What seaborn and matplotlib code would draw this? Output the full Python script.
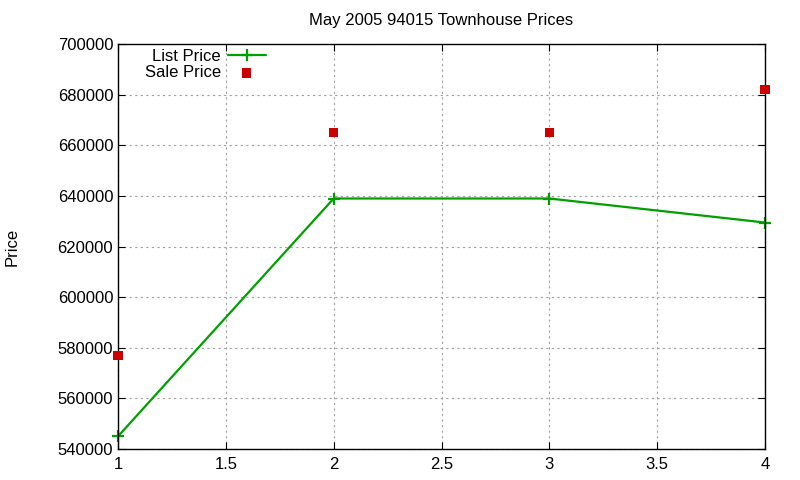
import numpy as np
import pandas as pd
import seaborn as sb
import matplotlib
matplotlib.use('Agg')
import matplotlib.pyplot as plt

# data
bedrooms = [1, 2, 3, 4]
listPrice = [545000, 639000, 639000, 629500]
salePrice = [577000, 665000, 665000, 682000]

df = pd.DataFrame({'x': bedrooms, 'List Price': listPrice, 'Sale Price': salePrice})

sb.set_style('ticks')
plt.rcParams['font.family'] = ['Liberation Sans', 'DejaVu Sans']
plt.rcParams['text.color'] = 'black'
plt.rcParams['axes.labelcolor'] = 'black'
plt.rcParams['xtick.color'] = 'black'
plt.rcParams['ytick.color'] = 'black'

fig = plt.figure(figsize=(8, 4.8), dpi=100)
ax = fig.add_axes([0.1475, 0.0646, 0.8088, 0.8434])

green = '#00a000'
sb.lineplot(data=df, x='x', y='List Price', ax=ax, color=green, linewidth=1.6,
            marker='+', markersize=9, markeredgewidth=1.6, markeredgecolor=green,
            label='List Price', clip_on=False)
sb.scatterplot(data=df, x='x', y='Sale Price', ax=ax, color='#cc0000', marker='s',
               s=45, edgecolor='none', label='Sale Price', clip_on=False, zorder=5)

ax.set_xlim(1, 4)
ax.set_ylim(540000, 700000)
ax.set_xticks([1, 1.5, 2, 2.5, 3, 3.5, 4])
ax.set_xticklabels(['1', '1.5', '2', '2.5', '3', '3.5', '4'])
ax.set_yticks(np.arange(540000, 700001, 20000))
ax.set_yticklabels([str(v) for v in range(540000, 700001, 20000)])
ax.grid(True, color='#a0a0a0', linestyle=(0, (2, 3)), linewidth=0.8)
for sp in ax.spines.values():
    sp.set_visible(True)
    sp.set_color('black')
    sp.set_linewidth(1)
ax.tick_params(direction='in', length=5, labelsize=12, colors='black', top=True, right=True)
ax.tick_params(axis='x', pad=6)

ax.set_xlabel('')
ax.set_ylabel('Price', fontsize=12)
ax.yaxis.set_label_coords(-0.152, 0.5)
ax.set_title('May 2005 94015 Townhouse Prices', fontsize=12, pad=14, color='black')

leg = ax.legend(loc='upper left', bbox_to_anchor=(0.031, 1.005), markerfirst=False, frameon=False,
                fontsize=12, handlelength=2.3, handletextpad=0.4, borderaxespad=0.0,
                labelspacing=0.1)
for t in leg.get_texts():
    t.set_ha('right')

fig.savefig('out.png', dpi=100)
